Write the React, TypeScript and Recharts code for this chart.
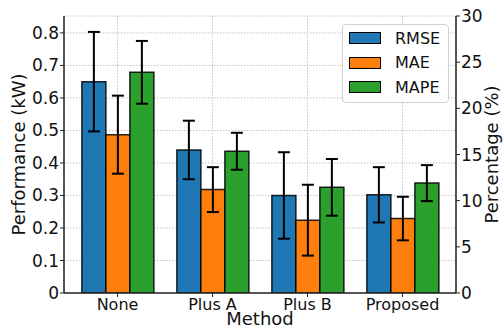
import React from 'react';
import {
  BarChart,
  Bar,
  XAxis,
  YAxis,
  CartesianGrid,
  ErrorBar,
} from 'recharts';

const METHODS = ['None', 'Plus A', 'Plus B', 'Proposed'];

// kW, left axis
const RMSE = [0.65, 0.44, 0.3, 0.302];
const RMSE_ERR = [0.153, 0.09, 0.133, 0.085];
const MAE = [0.487, 0.318, 0.224, 0.229];
const MAE_ERR = [0.12, 0.069, 0.109, 0.067];

// %, right axis
const MAPE = [23.9, 15.35, 11.44, 11.9];
const MAPE_ERR = [3.4, 2.0, 3.07, 1.95];

const LEFT_TICKS = [0, 0.1, 0.2, 0.3, 0.4, 0.5, 0.6, 0.7, 0.8];
const RIGHT_TICKS = [0, 5, 10, 15, 20, 25, 30];

const SERIES = [
  { key: 'rmse', name: 'RMSE', color: '#1f77b4', axis: 'left' },
  { key: 'mae', name: 'MAE', color: '#ff7f0e', axis: 'left' },
  { key: 'mape', name: 'MAPE', color: '#2ca02c', axis: 'right' },
];

const data = METHODS.map((method, i) => ({
  method,
  rmse: RMSE[i],
  rmseErr: RMSE_ERR[i],
  mae: MAE[i],
  maeErr: MAE_ERR[i],
  mape: MAPE[i],
  mapeErr: MAPE_ERR[i],
}));

const INK = '#111';
const SPINE = { stroke: '#222', strokeWidth: 1.5 };

// legend box drawn over the upper right of the plot
function LegendBox() {
  return (
    <div
      style={{
        position: 'absolute',
        left: 342,
        top: 24,
        border: '1px solid #d0d0d0',
        borderRadius: 4,
        background: 'rgba(255,255,255,0.85)',
        padding: '1px 8px 2px 6px',
        fontSize: 16,
        color: INK,
      }}
    >
      {SERIES.map((s) => (
        <div key={s.key} style={{ display: 'flex', alignItems: 'center', height: 24.5 }}>
          <span
            style={{
              display: 'inline-block',
              width: 30,
              height: 10,
              background: s.color,
              border: '1.5px solid #000',
              marginRight: 14,
            }}
          />
          <span>{s.name}</span>
        </div>
      ))}
    </div>
  );
}

export default function App() {
  return (
    <div
      style={{
        position: 'absolute',
        left: 0,
        top: 0,
        width: 504,
        height: 330,
        fontFamily: '"DejaVu Sans", sans-serif',
      }}
    >
      <BarChart
        width={504}
        height={330}
        data={data}
        margin={{ top: 16, right: 0, bottom: 0, left: 0 }}
        barCategoryGap="12.5%"
        barGap={0}
      >
        <CartesianGrid
          xAxisId="main"
          yAxisId="left"
          stroke="#c4c4c4"
          strokeDasharray="1.5 1.5"
        />
        <XAxis
          xAxisId="main"
          dataKey="method"
          height={37}
          padding={{ left: 6, right: 6 }}
          tickSize={4}
          tickMargin={2}
          tickLine={{ stroke: '#222' }}
          axisLine={SPINE}
          tick={{ fontSize: 16, fill: INK }}
          label={{ value: 'Method', position: 'insideBottom', offset: 5, fontSize: 18, fill: INK }}
        />
        <XAxis
          xAxisId="top"
          dataKey="method"
          orientation="top"
          height={0}
          tick={false}
          tickLine={false}
          axisLine={SPINE}
        />
        <YAxis
          yAxisId="left"
          width={64}
          domain={[0, 0.852]}
          allowDataOverflow
          ticks={LEFT_TICKS}
          interval={0}
          tickFormatter={(v: number) => (v === 0 ? '0' : v.toFixed(1))}
          tickSize={4}
          tickMargin={1}
          tickLine={{ stroke: '#222' }}
          axisLine={SPINE}
          tick={{ fontSize: 17, fill: INK }}
          label={{
            value: 'Performance (kW)',
            angle: -90,
            position: 'insideLeft',
            offset: 19,
            fontSize: 18,
            fill: INK,
            style: { textAnchor: 'middle' },
          }}
        />
        <YAxis
          yAxisId="right"
          orientation="right"
          width={48}
          domain={[0, 30]}
          allowDataOverflow
          ticks={RIGHT_TICKS}
          interval={0}
          tickSize={4}
          tickMargin={1}
          tickLine={{ stroke: '#222' }}
          axisLine={SPINE}
          tick={{ fontSize: 17, fill: INK }}
          label={{
            value: 'Percentage (%)',
            angle: -90,
            position: 'insideRight',
            offset: 12,
            fontSize: 18,
            fill: INK,
            style: { textAnchor: 'middle' },
          }}
        />
        {SERIES.map((s) => (
          <Bar
            key={s.key}
            xAxisId="main"
            yAxisId={s.axis}
            dataKey={s.key}
            name={s.name}
            fill={s.color}
            stroke="#000"
            strokeOpacity={0.85}
            strokeWidth={1.5}
            isAnimationActive={false}
          >
            <ErrorBar
              dataKey={`${s.key}Err`}
              direction="y"
              width={6}
              stroke="#000"
              strokeWidth={2}
              isAnimationActive={false}
            />
          </Bar>
        ))}
      </BarChart>
      <LegendBox />
    </div>
  );
}
